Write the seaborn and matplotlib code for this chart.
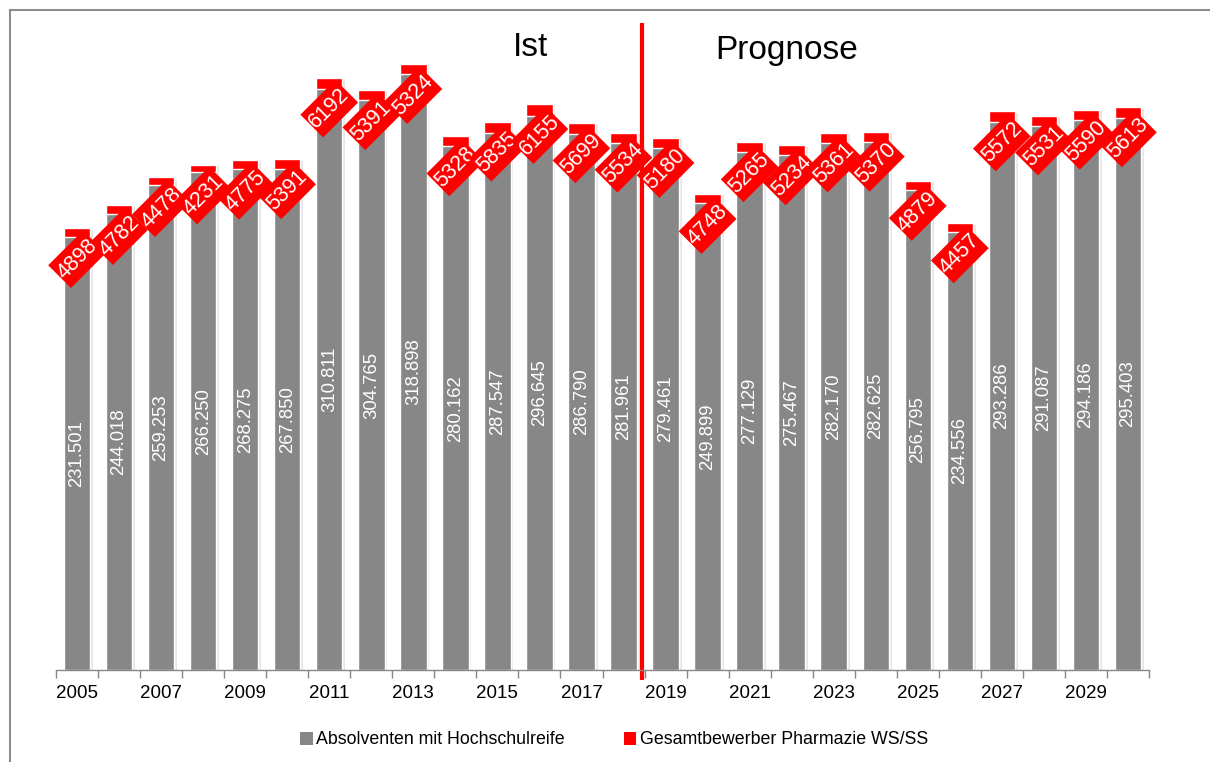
import numpy as np
import pandas as pd
import matplotlib
matplotlib.use("Agg")
import matplotlib.pyplot as plt
import matplotlib.patheffects as pe
from matplotlib.patches import Patch, Rectangle
from matplotlib.path import Path
import seaborn as sns

# Jahre, Absolventen mit Hochschulreife und Gesamtbewerber Pharmazie
years = list(range(2005, 2031))
absolventen = [231501, 244018, 259253, 266250, 268275, 267850, 310811, 304765,
               318898, 280162, 287547, 296645, 286790, 281961, 279461, 249899,
               277129, 275467, 282170, 282625, 256795, 234556, 293286, 291087,
               294186, 295403]
bewerber = [4898, 4782, 4478, 4231, 4775, 5391, 6192, 5391, 5324, 5328, 5835,
            6155, 5699, 5534, 5180, 4748, 5265, 5234, 5361, 5370, 4879, 4457,
            5572, 5531, 5590, 5613]
tick_years = years[::2]
series_labels = ["Absolventen mit Hochschulreife", "Gesamtbewerber Pharmazie WS/SS"]
split_after = 2018

GREY = "#878787"
RED = "#ff0000"

sns.set_theme(style="white")
plt.rcParams["font.family"] = ["Liberation Sans", "DejaVu Sans"]


def label_box(x0, y0, width, height, mutation_size):
    """Rectangle with little padding along the text and more across it."""
    px = 0.04 * mutation_size
    py = 0.26 * mutation_size
    verts = [(x0 - px, y0 - py), (x0 + width + px, y0 - py),
             (x0 + width + px, y0 + height + py), (x0 - px, y0 + height + py),
             (x0 - px, y0 - py)]
    return Path(verts, closed=True)


df = pd.DataFrame({"Jahr": [str(y) for y in years],
                   "Absolventen": absolventen,
                   "Bewerber": bewerber})
df["Gesamt"] = df["Absolventen"] + df["Bewerber"]

fig = plt.figure(figsize=(12.1, 7.62), dpi=100)
ax = fig.add_axes([56 / 1210, 1 - 670 / 762, (1149 - 56) / 1210, (670 - 23) / 762])

# stacked bars: full height in red, grey part drawn over it
sns.barplot(data=df, x="Jahr", y="Gesamt", color=RED, width=0.63,
            saturation=1, errorbar=None, ax=ax)
n = len(df)
for p in ax.patches[:n]:
    p.set_path_effects([pe.SimplePatchShadow(offset=(2, -1), shadow_rgbFace="#b8b8b8", alpha=0.35),
                        pe.Normal()])
sns.barplot(data=df, x="Jahr", y="Absolventen", color=GREY, width=0.63,
            saturation=1, errorbar=None, ax=ax)

ax.set_xlim(-0.5, n - 0.5)
ax.set_ylim(0, 346200)

# value labels
for i, row in df.iterrows():
    txt = f"{row['Absolventen']:,}".replace(",", ".")
    ax.text(i, row["Absolventen"] / 2, txt, rotation=90, ha="center", va="center",
            color="white", fontsize=13.3)
    ax.annotate(str(row["Bewerber"]), xy=(i, row["Gesamt"]), xytext=(0, -31),
                textcoords="offset pixels", rotation=45, ha="center", va="center",
                color="white", fontsize=15.5,
                bbox=dict(boxstyle=label_box, fc=RED, ec="none"))

# x axis: ticks on category boundaries, year labels every second bar
ax.set_xticks(np.arange(-0.5, n, 1.0))
ax.set_xticklabels([""] * (n + 1))
ax.set_xticks([years.index(y) for y in tick_years], minor=True)
ax.set_xticklabels([str(y) for y in tick_years], minor=True)
ax.tick_params(axis="x", which="major", length=6, width=1, color=GREY, direction="out", bottom=True)
ax.tick_params(axis="x", which="minor", length=0, pad=11, labelsize=13.5, labelcolor="black")
ax.set_yticks([])
ax.set_xlabel("")
ax.set_ylabel("")
for s in ["left", "top", "right"]:
    ax.spines[s].set_visible(False)
ax.spines["bottom"].set_color(GREY)
ax.spines["bottom"].set_linewidth(1)

# separator between actual values and forecast
xs = years.index(split_after) + 0.44
ax.plot([xs, xs], [-0.0155, 1.0], transform=ax.get_xaxis_transform(),
        color=RED, lw=3, clip_on=False, solid_capstyle="butt")

fig.text(530 / 1210, 1 - 47 / 762, "Ist", fontsize=24, ha="center", va="center", color="black")
fig.text(787 / 1210, 1 - 50 / 762, "Prognose", fontsize=24, ha="center", va="center", color="black")

handles = [Patch(facecolor=GREY, edgecolor="none"), Patch(facecolor=RED, edgecolor="none")]
fig.legend(handles, series_labels, loc="center", bbox_to_anchor=(614 / 1210, 1 - 740 / 762),
           ncol=2, frameon=False, fontsize=12.8, handlelength=0.7, handleheight=0.7,
           handletextpad=0.2, columnspacing=3.3, labelcolor="black")

# chart frame
fig.add_artist(Rectangle((10 / 1210, -0.1), 1.2, 1 - 10 / 762 + 0.1,
                         transform=fig.transFigure, fill=False, ec="#8c8c8c", lw=1.5))

fig.savefig("out.png", dpi=100)
